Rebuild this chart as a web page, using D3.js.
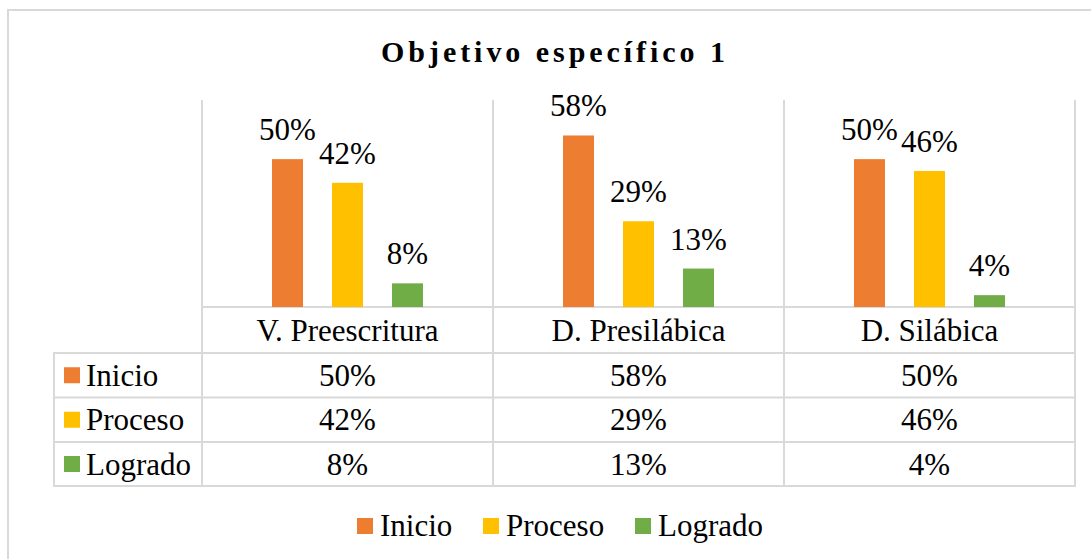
<!DOCTYPE html>
<html>
<head>
<meta charset="utf-8">
<script src="https://cdn.jsdelivr.net/npm/d3@7"></script>
</head>
<body style="margin:0; background:#fff">
<svg id="chart" width="1091" height="559" style="display:block"></svg>
<script>
const title = "Objetivo específico 1";
const categories = ["V. Preescritura", "D. Presilábica", "D. Silábica"];
const series = ["Inicio", "Proceso", "Logrado"];
const inicio = [0.50, 0.58, 0.50];
const proceso = [0.42, 0.29, 0.46];
const logrado = [0.08, 0.13, 0.04];
const yMax = 0.70;

const values = [inicio, proceso, logrado];
const colors = ["#ED7D31", "#FFC000", "#70AD47"];
const fmt = d3.format(".0%");
const FONT = "'Liberation Serif', 'Times New Roman', serif";

const svg = d3.select("#chart");
const grid = "#d9d9d9";
const fontSize = 31;

// outer chart border
svg.append("rect").attr("x", 8).attr("y", 10).attr("width", 1100).attr("height", 600)
  .attr("fill", "#fff").attr("stroke", grid).attr("stroke-width", 2);

// title
svg.append("text").attr("x", 555).attr("y", 62).attr("text-anchor", "middle")
  .attr("font-family", FONT)
  .attr("font-size", 30).attr("font-weight", "bold").attr("letter-spacing", "3.95px")
  .attr("fill", "#000").text(title);

const plotL = 202, plotR = 1075, plotT = 100, plotB = 307;
const rowH = [353, 397.5, 442, 486];
const tableL = 54;

const x0 = d3.scaleBand().domain(categories).range([plotL, plotR]).padding(0);
const x1 = d3.scaleBand().domain(series).range([-90, 90]).paddingInner(29 / 60).paddingOuter(29 / 120);
const y = d3.scaleLinear().domain([0, yMax]).range([plotB, plotT]);

// grid / table lines
const lines = svg.append("g").attr("stroke", grid).attr("stroke-width", 2).attr("fill", "none");
const bounds = categories.map(c => x0(c)).concat([plotR]);
bounds.forEach(bx => {
  lines.append("line").attr("x1", bx).attr("x2", bx).attr("y1", plotT).attr("y2", rowH[3]);
});
lines.append("line").attr("x1", tableL).attr("x2", tableL).attr("y1", rowH[0]).attr("y2", rowH[3]);
lines.append("line").attr("x1", plotL).attr("x2", plotR).attr("y1", plotB).attr("y2", plotB);
rowH.forEach(ry => {
  lines.append("line").attr("x1", tableL - 1).attr("x2", plotR + 1).attr("y1", ry).attr("y2", ry);
});

// bars
const cats = svg.append("g").selectAll("g").data(categories).join("g")
  .attr("transform", c => `translate(${x0(c) + x0.bandwidth() / 2},0)`);

series.forEach((s, si) => {
  cats.append("rect")
    .attr("x", x1(s))
    .attr("width", x1.bandwidth())
    .attr("y", (c, ci) => y(values[si][ci]))
    .attr("height", (c, ci) => y(0) - y(values[si][ci]))
    .attr("fill", colors[si]);
  cats.append("text")
    .attr("x", x1(s) + x1.bandwidth() / 2)
    .attr("y", (c, ci) => y(values[si][ci]) - 19)
    .attr("text-anchor", "middle")
    .attr("font-family", FONT)
    .attr("font-size", fontSize)
    .attr("fill", "#000")
    .text((c, ci) => fmt(values[si][ci]));
});

// table header: category labels
cats.append("text").attr("x", 0).attr("y", (plotB + rowH[0]) / 2 + 10.5)
  .attr("text-anchor", "middle").attr("font-family", FONT).attr("font-size", fontSize).attr("fill", "#000")
  .text(c => c);

// table rows
series.forEach((s, si) => {
  const cy = (rowH[si] + rowH[si + 1]) / 2;
  svg.append("rect").attr("x", 64).attr("y", cy - 8).attr("width", 16).attr("height", 16)
    .attr("fill", colors[si]);
  svg.append("text").attr("x", 86).attr("y", cy + 10.5).attr("font-family", FONT).attr("font-size", fontSize)
    .attr("fill", "#000").text(s);
  categories.forEach((c, ci) => {
    svg.append("text").attr("x", x0(c) + x0.bandwidth() / 2).attr("y", cy + 10.5)
      .attr("text-anchor", "middle").attr("font-family", FONT).attr("font-size", fontSize).attr("fill", "#000")
      .text(fmt(values[si][ci]));
  });
});

// legend
const legendX = [357, 483, 635];
series.forEach((s, si) => {
  svg.append("rect").attr("x", legendX[si]).attr("y", 518).attr("width", 16).attr("height", 16)
    .attr("fill", colors[si]);
  svg.append("text").attr("x", legendX[si] + 23).attr("y", 536).attr("font-family", FONT).attr("font-size", fontSize)
    .attr("fill", "#000").text(s);
});
</script>
</body>
</html>
